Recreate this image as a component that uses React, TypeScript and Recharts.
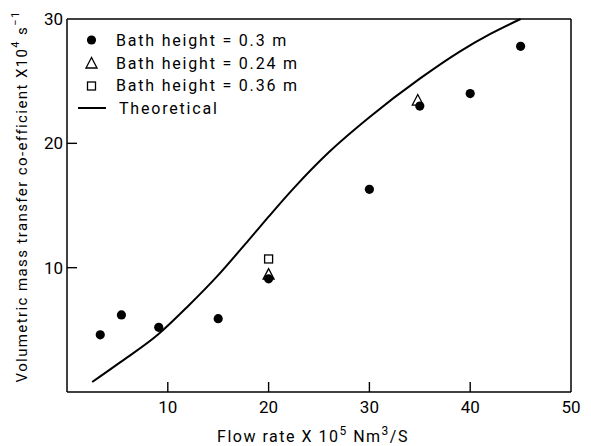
import { ComposedChart, Line, Scatter, XAxis, YAxis } from 'recharts';

// measured values (flow rate x10^5 Nm3/s vs. coefficient x10^4 s^-1)
const xTicks = [10, 20, 30, 40, 50];
const yTicks = [10, 20, 30];

const bath030 = [
  { x: 3.3, y: 4.6 },
  { x: 5.4, y: 6.2 },
  { x: 9.1, y: 5.2 },
  { x: 15, y: 5.9 },
  { x: 20, y: 9.1 },
  { x: 30, y: 16.3 },
  { x: 35, y: 23.0 },
  { x: 40, y: 24.0 },
  { x: 45, y: 27.8 },
];

const bath024 = [
  { x: 20, y: 9.4 },
  { x: 34.8, y: 23.4 },
];

const bath036 = [{ x: 20, y: 10.7 }];

const theoretical = [
  { x: 2.5, y: 0.8 },
  { x: 5.3, y: 2.4 },
  { x: 9, y: 4.6 },
  { x: 12, y: 6.9 },
  { x: 15, y: 9.4 },
  { x: 18, y: 12.2 },
  { x: 20, y: 14.1 },
  { x: 22.5, y: 16.4 },
  { x: 26, y: 19.3 },
  { x: 30, y: 22.1 },
  { x: 35, y: 25.2 },
  { x: 39, y: 27.4 },
  { x: 42, y: 28.8 },
  { x: 45, y: 30 },
];

const FONT = 'Roboto, "DejaVu Sans", sans-serif';

const Dot = ({ cx, cy }: any) => <circle cx={cx} cy={cy} r={4.6} fill="#000" />;
const Tri = ({ cx, cy }: any) => (
  <polygon
    points={`${cx},${cy - 6.5} ${cx - 5.5},${cy + 4} ${cx + 5.5},${cy + 4}`}
    fill="none"
    stroke="#000"
    strokeWidth={1.3}
  />
);
const Sq = ({ cx, cy }: any) => (
  <rect x={cx - 4} y={cy - 4} width={8} height={8} fill="none" stroke="#000" strokeWidth={1.3} />
);

const XTick = ({ x, y, payload }: any) => (
  <g>
    {payload.value < 50 && <line x1={x} y1={y} x2={x} y2={y - 10} stroke="#000" strokeWidth={1.4} />}
    <text x={x} y={y + 21} textAnchor="middle" fontSize={17} fontFamily={FONT} fill="#000">
      {payload.value}
    </text>
  </g>
);

const YTick = ({ x, y, payload }: any) => (
  <g>
    {payload.value < 30 && <line x1={x} y1={y} x2={x + 10} y2={y} stroke="#000" strokeWidth={1.4} />}
    <text x={x - 4} y={y + 6} textAnchor="end" fontSize={17} fontFamily={FONT} fill="#000">
      {payload.value}
    </text>
  </g>
);

const XTitle = ({ viewBox }: any) => {
  const cx = viewBox.x + viewBox.width / 2 - 6;
  const y = viewBox.y + 50;
  return (
    <text x={cx} y={y} textAnchor="middle" fontSize={16} fontFamily={FONT} letterSpacing={1.5} fill="#000">
      Flow rate X 10
      <tspan dy={-7} fontSize={12}>5</tspan>
      <tspan dy={7}> Nm</tspan>
      <tspan dy={-7} fontSize={12}>3</tspan>
      <tspan dy={7}>/S</tspan>
    </text>
  );
};

const YTitle = ({ viewBox }: any) => {
  const x = viewBox.x + 22;
  const cy = viewBox.y + viewBox.height / 2 - 9;
  return (
    <text
      x={x}
      y={cy}
      transform={`rotate(-90 ${x} ${cy})`}
      textAnchor="middle"
      dominantBaseline="central"
      fontSize={15}
      fontFamily={FONT}
      letterSpacing={1.4}
      fill="#000"
    >
      Volumetric mass transfer co-efficient X10
      <tspan dy={-7} fontSize={11}>4</tspan>
      <tspan dy={7}> s</tspan>
      <tspan dy={-7} fontSize={11}>−1</tspan>
    </text>
  );
};

const legendRows = [
  { label: 'Bath height = 0.3 m', icon: 'dot' },
  { label: 'Bath height = 0.24 m', icon: 'tri' },
  { label: 'Bath height = 0.36 m', icon: 'sq' },
  { label: 'Theoretical', icon: 'line' },
];

function LegendBox() {
  return (
    <div style={{ position: 'absolute', left: 76, top: 29, fontFamily: FONT, fontSize: 16, letterSpacing: 1.8 }}>
      {legendRows.map((r) => (
        <div key={r.label} style={{ display: 'flex', alignItems: 'center', height: 22.7 }}>
          <svg width={38} height={20}>
            {r.icon === 'dot' && <circle cx={15.5} cy={10} r={4.6} fill="#000" />}
            {r.icon === 'tri' && <Tri cx={15.5} cy={11} />}
            {r.icon === 'sq' && <Sq cx={15.5} cy={10} />}
            {r.icon === 'line' && <line x1={2} y1={10} x2={30} y2={10} stroke="#000" strokeWidth={2} />}
          </svg>
          <span style={{ marginLeft: r.icon === 'line' ? 5 : 2 }}>{r.label}</span>
        </div>
      ))}
    </div>
  );
}

const axisLine = { stroke: '#000', strokeWidth: 1.5 };

export default function App() {
  return (
    <div style={{ position: 'absolute', left: 0, top: 0, width: 591, height: 446, background: '#fff' }}>
      <ComposedChart width={591} height={446} margin={{ top: 18, right: 19, bottom: 0, left: 0 }}>
        <XAxis
          type="number"
          dataKey="x"
          domain={[0, 50]}
          ticks={xTicks}
          height={54}
          tickSize={0}
          tickMargin={0}
          tick={<XTick />}
          axisLine={axisLine}
          tickLine={false}
          label={{ content: XTitle } as any}
        />
        <XAxis xAxisId="top" orientation="top" type="number" domain={[0, 50]} height={1} tick={false} tickLine={false} axisLine={axisLine} />
        <YAxis
          type="number"
          domain={[0, 30]}
          ticks={yTicks}
          width={67}
          tickSize={0}
          tickMargin={0}
          tick={<YTick />}
          axisLine={axisLine}
          tickLine={false}
          label={{ content: YTitle } as any}
        />
        <YAxis yAxisId="right" orientation="right" type="number" domain={[0, 30]} width={1} tick={false} tickLine={false} axisLine={axisLine} />
        <Line
          data={theoretical}
          dataKey="y"
          type="monotoneX"
          stroke="#000"
          strokeWidth={2}
          dot={false}
          activeDot={false}
          isAnimationActive={false}
        />
        <Scatter data={bath024} dataKey="y" shape={<Tri />} isAnimationActive={false} />
        <Scatter data={bath036} dataKey="y" shape={<Sq />} isAnimationActive={false} />
        <Scatter data={bath030} dataKey="y" shape={<Dot />} isAnimationActive={false} />
      </ComposedChart>
      <LegendBox />
    </div>
  );
}
